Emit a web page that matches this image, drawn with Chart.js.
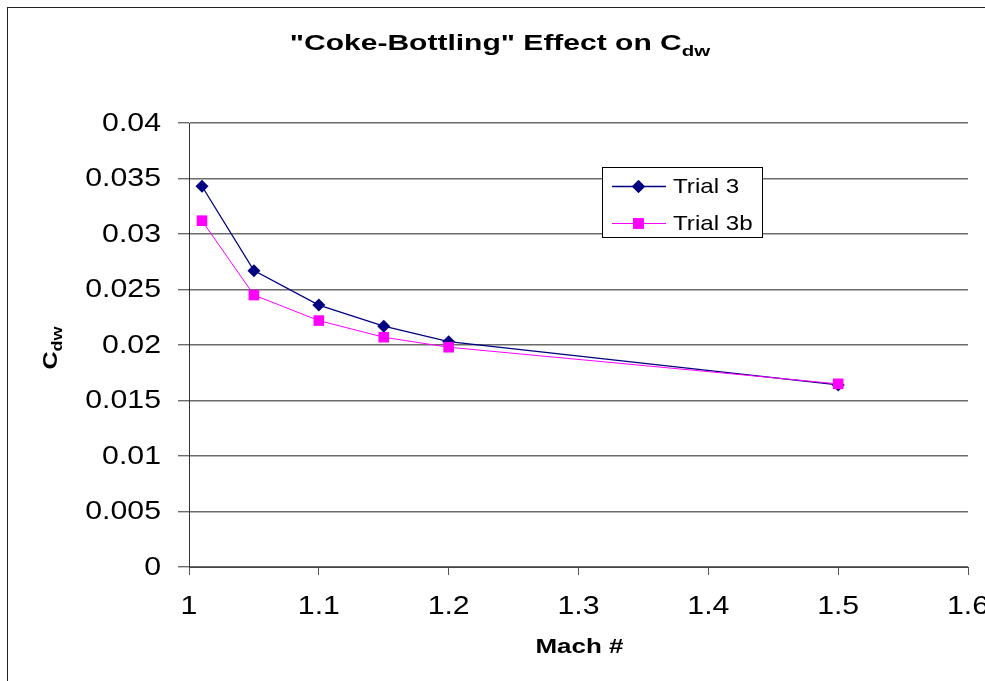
<!DOCTYPE html>
<html>
<head>
<meta charset="utf-8">
<script src="https://cdn.jsdelivr.net/npm/chart.js@4/dist/chart.umd.min.js"></script>
<style>
  html, body { margin: 0; padding: 0; background: #fff; overflow: hidden; }
  canvas { display: block; }
</style>
</head>
<body>
<canvas id="c" width="985" height="681"></canvas>
<script>
// ---- data ----
const machNumbers = [1.01, 1.05, 1.1, 1.15, 1.2, 1.5];
const trial3 = [0.0343, 0.0267, 0.0236, 0.0217, 0.0203, 0.0164];
const trial3b = [0.0312, 0.0245, 0.0222, 0.0207, 0.0198, 0.0165];
const seriesNames = ['Trial 3', 'Trial 3b'];
const titleMain = '"Coke-Bottling" Effect on C';
const titleSub = 'dw';
const yTitleMain = 'C';
const yTitleSub = 'dw';
const xTitle = 'Mach #';

const NAVY = '#000080';
const MAGENTA = '#FF00FF';
const FONT = '"Liberation Sans", Arial, sans-serif';

function toPoints(xs, ys) { return xs.map((x, i) => ({ x: x, y: ys[i] })); }

// draw text stretched horizontally; x is left edge; returns width drawn
function stretched(ctx, text, x, y, font, sx, baseline) {
  ctx.save();
  ctx.font = font;
  ctx.textBaseline = baseline || 'alphabetic';
  ctx.textAlign = 'left';
  ctx.translate(x, y);
  ctx.scale(sx, 1);
  ctx.fillText(text, 0, 0);
  const w = ctx.measureText(text).width * sx;
  ctx.restore();
  return w;
}
function measure(ctx, text, font) {
  ctx.save(); ctx.font = font; const w = ctx.measureText(text).width; ctx.restore(); return w;
}

const decorPlugin = {
  id: 'decor',
  beforeDraw(chart) {
    const ctx = chart.ctx;
    ctx.save();
    ctx.fillStyle = '#fff';
    ctx.fillRect(0, 0, chart.width, chart.height);
    ctx.strokeStyle = '#222';
    ctx.lineWidth = 1;
    ctx.strokeRect(7.5, 7.5, 1100, 800);
    ctx.restore();
  },
  afterDraw(chart) {
    const ctx = chart.ctx;
    const xs = chart.scales.x, ys = chart.scales.y;
    ctx.save();
    ctx.fillStyle = '#000';

    // tick labels
    const tickFont = '25px ' + FONT;
    const tsx = 1.21;
    ys.ticks.forEach(t => {
      const py = ys.getPixelForValue(t.value);
      const label = String(+t.value.toFixed(4));
      const w = measure(ctx, label, tickFont) * tsx;
      stretched(ctx, label, 161 - w, py + 1, tickFont, tsx, 'middle');
    });
    xs.ticks.forEach(t => {
      const px = xs.getPixelForValue(t.value);
      const label = String(+t.value.toFixed(2));
      const w = measure(ctx, label, tickFont) * tsx;
      stretched(ctx, label, px - w / 2, 607, tickFont, tsx, 'middle');
    });

    // title
    const tFont = 'bold 22px ' + FONT;
    const tSubFont = 'bold 15px ' + FONT;
    const mainW = measure(ctx, titleMain, tFont);
    const tsx2 = 392 / mainW;
    const subW = measure(ctx, titleSub, tSubFont) * tsx2;
    const total = mainW * tsx2 + subW;
    const tx = 500 - total / 2;
    stretched(ctx, titleMain, tx, 50, tFont, tsx2);
    stretched(ctx, titleSub, tx + mainW * tsx2, 56, tSubFont, tsx2);

    // x axis title
    const xtFont = 'bold 21px ' + FONT;
    const xw = measure(ctx, xTitle, xtFont);
    const xsx = 88 / xw;
    stretched(ctx, xTitle, (xs.left + xs.right) / 2 - 44 + 1, 653, xtFont, xsx);

    // y axis title (rotated)
    ctx.save();
    ctx.translate(57, 348);
    ctx.rotate(-Math.PI / 2);
    const ytFont = 'bold 21px ' + FONT;
    const ytSub = 'bold 15px ' + FONT;
    const cw = measure(ctx, yTitleMain, ytFont) * 1.2;
    const sw = measure(ctx, yTitleSub, ytSub) * 1.2;
    const yx0 = -(cw + sw) / 2;
    stretched(ctx, yTitleMain, yx0, 0, ytFont, 1.2);
    stretched(ctx, yTitleSub, yx0 + cw, 5, ytSub, 1.2);
    ctx.restore();

    // legend
    ctx.fillStyle = '#fff';
    ctx.fillRect(602.5, 167.5, 160, 70);
    ctx.strokeStyle = '#000';
    ctx.lineWidth = 1;
    ctx.strokeRect(602.5, 167.5, 160, 70);
    const rows = [
      { name: seriesNames[0], color: NAVY, y: 186, style: 'rectRot', r: 6.5, lw: 1.3 },
      { name: seriesNames[1], color: MAGENTA, y: 223, style: 'rect', r: 7.5, lw: 1 }
    ];
    const lFont = '21px ' + FONT;
    rows.forEach(r => {
      ctx.strokeStyle = r.color;
      ctx.lineWidth = r.lw;
      ctx.beginPath();
      ctx.moveTo(612, r.y + 0.5);
      ctx.lineTo(666, r.y + 0.5);
      ctx.stroke();
      ctx.fillStyle = r.color;
      Chart.helpers.drawPoint(ctx, { pointStyle: r.style, radius: r.r, borderWidth: 0, rotation: 0 }, 638.5, r.y + 0.5);
      ctx.fill();
      ctx.fillStyle = '#000';
      stretched(ctx, r.name, 673, r.y + 1, lFont, 1.15, 'middle');
    });
    ctx.restore();
  }
};

new Chart(document.getElementById('c'), {
  type: 'scatter',
  data: {
    datasets: [
      {
        label: seriesNames[0],
        data: toPoints(machNumbers, trial3),
        showLine: true,
        borderColor: NAVY,
        backgroundColor: NAVY,
        borderWidth: 1.3,
        pointStyle: 'rectRot',
        pointRadius: 6.5,
        pointBorderWidth: 0,
        pointBackgroundColor: NAVY,
        order: 1,
        tension: 0
      },
      {
        label: seriesNames[1],
        data: toPoints(machNumbers, trial3b),
        showLine: true,
        borderColor: MAGENTA,
        backgroundColor: MAGENTA,
        borderWidth: 1,
        pointStyle: 'rect',
        pointRadius: 7.5,
        pointBorderWidth: 0,
        pointBackgroundColor: MAGENTA,
        order: 0,
        tension: 0
      }
    ]
  },
  options: {
    responsive: false,
    animation: false,
    devicePixelRatio: 1,
    layout: { padding: { left: 0, right: 17, top: 123, bottom: 0 } },
    plugins: {
      legend: { display: false },
      title: { display: false },
      tooltip: { enabled: false }
    },
    events: [],
    scales: {
      x: {
        type: 'linear',
        min: 1,
        max: 1.6,
        ticks: { display: false, stepSize: 0.1 },
        grid: { drawOnChartArea: false, drawTicks: true, tickLength: 8, color: '#555', lineWidth: 1 },
        border: { display: true, color: '#444', width: 1 },
        afterFit(s) { s.height = 114; s.paddingLeft = 0; s.paddingRight = 0; }
      },
      y: {
        type: 'linear',
        min: 0,
        max: 0.04,
        ticks: { display: false, stepSize: 0.005 },
        grid: { drawOnChartArea: true, drawTicks: true, tickLength: 11, color: '#6b6b6b', lineWidth: 1.4 },
        border: { display: true, color: '#333', width: 1 },
        afterFit(s) { s.width = 189; s.paddingTop = 0; s.paddingBottom = 0; }
      }
    }
  },
  plugins: [decorPlugin]
});
</script>
</body>
</html>
